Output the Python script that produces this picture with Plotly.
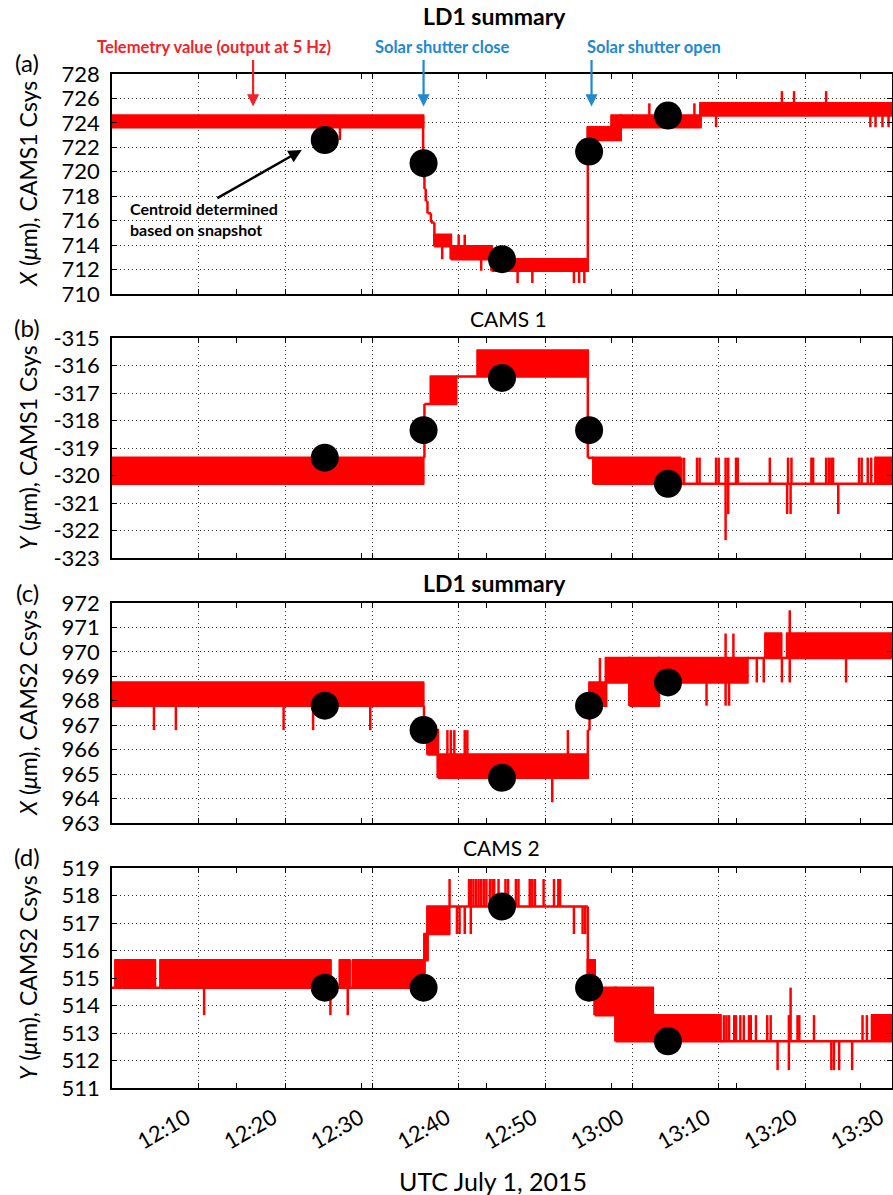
import pandas as pd
import plotly.graph_objects as go

# ------------------------------------------------------------------
# Time base: all times are minutes after 12:00 UTC, July 1, 2015
# ------------------------------------------------------------------
T_START = pd.Timestamp("2015-07-01 12:00:00")
T_SPAN_MIN = 90

# snapshot (centroid) epochs
snap_min = [24.55, 35.95, 45.0, 55.05, 64.15]

# shutter events and the telemetry pointer position (minutes)
shutter_close_min = 35.95
shutter_open_min = 55.33
telemetry_pointer_min = 16.28

# x-axis ticks
x_tick_min = [10, 20, 30, 40, 50, 60, 70, 80, 90]
x_tick_text = ["12:10", "12:20", "12:30", "12:40", "12:50", "13:00", "13:10", "13:20", "13:30"]
x_minor_min = [14.4, 28.8, 43.2, 57.6, 72.0, 86.4]

# ---------------- (a) X, CAMS1 Csys -------------------------------
# telemetry held between two quantised levels over each interval
a_edges = [0, 35.9, 36.05, 36.2, 36.4, 36.8, 37.2, 39.1, 43.8, 54.9, 57.65, 58.7, 67.9, 90]
a_lo = [723.65, 719.6, 718.6, 717.6, 716.6, 715.85, 713.9, 712.85, 711.9, 722.6, 722.6, 723.65, 724.6]
a_hi = [724.6, 719.6, 718.6, 717.6, 716.6, 715.85, 714.85, 713.9, 712.85, 723.65, 724.6, 724.6, 725.6]
a_spike_t = [26.3, 38.1, 40.0, 40.7, 42.6, 46.8, 48.5, 53.3, 53.9, 54.5,
             62.0, 67.2, 69.7, 77.3, 78.7, 82.4, 87.5, 88.1, 88.9, 89.6]
a_spike_lo = [722.6, 712.85, 713.9, 713.9, 711.9, 710.9, 710.9, 710.9, 710.9, 710.9,
              724.6, 724.6, 723.65, 725.6, 725.6, 725.6, 723.65, 723.65, 723.65, 723.65]
a_spike_hi = [723.65, 713.9, 714.85, 714.85, 712.85, 711.9, 711.9, 711.9, 711.9, 711.9,
              725.6, 725.6, 724.6, 726.6, 726.6, 726.6, 724.6, 724.6, 724.6, 724.6]
a_snap = [722.6, 720.7, 712.85, 721.65, 724.6]
a_yticks = [710, 712, 714, 716, 718, 720, 722, 724, 726, 728]

# ---------------- (b) Y, CAMS1 Csys -------------------------------
b_edges = [0, 35.9, 36.05, 36.8, 39.7, 42.2, 54.9, 55.55, 65.5, 88.1, 90]
b_lo = [-320.3, -319.35, -317.4, -317.4, -316.4, -316.4, -319.35, -320.3, -320.3, -320.3]
b_hi = [-319.35, -319.35, -317.4, -316.4, -316.4, -315.45, -319.35, -319.35, -320.3, -319.35]
b_spike_t = [65.7, 66.0, 67.5, 67.8, 69.7, 70.0, 70.8, 71.1, 72.0, 72.2, 75.9, 78.0,
             78.4, 80.7, 80.9, 82.4, 82.7, 83.0, 83.2, 86.2, 86.5, 87.2, 87.6,
             70.8, 71.1, 77.9, 78.3, 83.8]
b_spike_lo = [-320.3] * 23 + [-322.35, -321.4, -321.4, -321.4, -321.4]
b_spike_hi = [-319.35] * 23 + [-320.3, -320.3, -320.3, -320.3, -320.3]
b_snap = [-319.35, -318.35, -316.45, -318.35, -320.3]
b_yticks = [-323, -322, -321, -320, -319, -318, -317, -316, -315]

# ---------------- (c) X, CAMS2 Csys -------------------------------
c_edges = [0, 35.9, 36.0, 36.4, 37.6, 54.9, 55.1, 57.0, 59.7, 63.1, 73.3, 75.4, 77.2, 77.9, 79.1, 79.3, 90]
c_lo = [967.8, 967.8, 966.8, 965.8, 964.85, 966.8, 967.8, 968.75, 967.8, 968.75,
        969.75, 969.75, 969.75, 969.75, 969.75, 969.75]
c_hi = [968.75, 967.8, 966.8, 966.8, 965.8, 966.8, 968.75, 969.75, 969.75, 969.75,
        969.75, 970.75, 969.75, 970.75, 969.75, 970.75]
c_spike_t = [4.84, 7.37, 19.8, 23.2, 29.8,
             38.7, 39.1, 39.5, 40.7, 41.0, 52.6,
             50.8, 56.3,
             68.6, 70.8, 71.2,
             70.8, 71.7,
             74.4, 75.2, 77.3, 78.2, 84.7,
             78.2]
c_spike_lo = [966.8] * 5 + [965.8] * 6 + [963.85, 968.75] + [967.8] * 3 + [969.75] * 2 + [968.75] * 5 + [969.75]
c_spike_hi = [967.8] * 5 + [966.8] * 6 + [964.85, 969.75] + [968.75] * 3 + [970.75] * 2 + [969.75] * 5 + [971.7]
c_snap = [967.8, 966.8, 964.85, 967.8, 968.75]
c_yticks = [963, 964, 965, 966, 967, 968, 969, 970, 971, 972]

# ---------------- (d) Y, CAMS2 Csys -------------------------------
d_edges = [0, 0.4, 0.9, 1.2, 4.95, 5.6, 25.2, 26.3, 27.4, 27.8, 36.05, 36.4, 38.9,
           54.9, 55.7, 58.1, 62.4, 70.2, 87.7, 90]
d_lo = [514.65] * 10 + [515.65, 516.6, 517.6, 514.65, 513.65, 512.7, 512.7, 512.7, 512.7]
d_hi = [514.65, 515.65, 514.65, 515.65, 514.65, 515.65, 514.65, 515.65, 514.65, 515.65,
        516.6, 517.6, 517.6, 515.65, 514.65, 514.65, 513.65, 512.7, 513.65]
d_spike_t = [10.63, 25.2, 27.2,
             38.95, 41.2, 41.4, 41.7, 42.0, 42.3, 42.6, 42.9, 43.2, 43.6, 43.9, 44.1,
             44.6, 45.4, 45.7, 46.6, 46.9, 48.2, 48.5, 48.8, 49.8, 51.0, 51.5, 51.7,
             39.8, 40.1, 40.7, 41.4, 53.3, 54.3, 54.6,
             70.6, 70.9, 71.2, 71.8, 72.0, 72.5, 72.9, 73.5, 73.7, 74.3, 75.6, 76.0,
             78.1, 79.1, 79.3, 81.0, 86.6, 87.1,
             78.3,
             76.8, 78.1, 83.0, 83.3, 83.9, 85.4]
d_spike_lo = ([513.65] * 3 + [517.6] * 24 + [516.6] * 7 + [512.7] * 18 + [512.7]
              + [511.65] * 6)
d_spike_hi = ([514.65] * 3 + [518.6] * 24 + [517.6] * 7 + [513.65] * 18 + [514.65]
              + [512.7] * 6)
d_snap = [514.65, 514.65, 517.6, 514.65, 512.7]
d_yticks = [511, 512, 513, 514, 515, 516, 517, 518, 519]

# ------------------------------------------------------------------
RED = "#ff0000"
TXT_RED = "#f2222a"
BLUE = "#2189d0"
GRID = "#333333"
FONT = "Lato"
TICK_SIZE = 22
W, H = 893, 1195
PLOT_L, PLOT_R = 112, 892
PANEL_TOPS = [74, 338, 603, 868]
PANEL_H = 220


def at(m):
    if m is None:
        return None
    return (T_START + pd.Timedelta(minutes=m)).strftime("%Y-%m-%d %H:%M:%S.%f")


def band_path(edges, lo, hi):
    xs, ys = [], []
    for i in range(len(lo)):
        t0, t1 = edges[i], edges[i + 1]
        xs += [at(t0), at(t1), at(t1), at(t0), at(t0), None]
        ys += [lo[i], lo[i], hi[i], hi[i], lo[i], None]
    return xs, ys


def join_path(edges, lo, hi, st, slo, shi):
    xs, ys = [], []
    for i in range(len(lo) - 1):
        t = at(edges[i + 1])
        xs += [t, t, None]
        ys += [min(lo[i], lo[i + 1]), max(hi[i], hi[i + 1]), None]
    for t, y0, y1 in zip(st, slo, shi):
        xs += [at(t), at(t), None]
        ys += [y0, y1, None]
    return xs, ys


panels = [
    dict(edges=a_edges, lo=a_lo, hi=a_hi, st=a_spike_t, slo=a_spike_lo, shi=a_spike_hi,
         snap=a_snap, yt=a_yticks, yr=[710, 728],
         ytitle="<i>X</i> (<i>μ</i>m), CAMS1 Csys", tag="(a)"),
    dict(edges=b_edges, lo=b_lo, hi=b_hi, st=b_spike_t, slo=b_spike_lo, shi=b_spike_hi,
         snap=b_snap, yt=b_yticks, yr=[-323, -315],
         ytitle="<i>Y</i> (<i>μ</i>m), CAMS1 Csys", tag="(b)"),
    dict(edges=c_edges, lo=c_lo, hi=c_hi, st=c_spike_t, slo=c_spike_lo, shi=c_spike_hi,
         snap=c_snap, yt=c_yticks, yr=[963, 972],
         ytitle="<i>X</i> (<i>μ</i>m), CAMS2 Csys", tag="(c)"),
    dict(edges=d_edges, lo=d_lo, hi=d_hi, st=d_spike_t, slo=d_spike_lo, shi=d_spike_hi,
         snap=d_snap, yt=d_yticks, yr=[511, 519],
         ytitle="<i>Y</i> (<i>μ</i>m), CAMS2 Csys", tag="(d)"),
]

fig = go.Figure()
layout = {}
annotations = []

for i, p in enumerate(panels):
    n = i + 1
    xa = "x" if n == 1 else f"x{n}"
    ya = "y" if n == 1 else f"y{n}"

    bx, by = band_path(p["edges"], p["lo"], p["hi"])
    fig.add_trace(go.Scatter(x=bx, y=by, xaxis=xa, yaxis=ya, mode="lines",
                             fill="toself", fillcolor=RED,
                             line=dict(color=RED, width=2.5), hoverinfo="skip"))
    jx, jy = join_path(p["edges"], p["lo"], p["hi"], p["st"], p["slo"], p["shi"])
    fig.add_trace(go.Scatter(x=jx, y=jy, xaxis=xa, yaxis=ya, mode="lines",
                             line=dict(color=RED, width=2.5), hoverinfo="skip"))
    fig.add_trace(go.Scatter(x=[at(m) for m in snap_min], y=p["snap"], xaxis=xa, yaxis=ya,
                             mode="markers", marker=dict(size=28, color="black"),
                             hoverinfo="skip"))

    top = PANEL_TOPS[i]
    dom_y = [1 - (top + PANEL_H) / H, 1 - top / H]
    xkey = "xaxis" if n == 1 else f"xaxis{n}"
    ykey = "yaxis" if n == 1 else f"yaxis{n}"
    layout[xkey] = dict(
        type="date", range=[at(0), at(T_SPAN_MIN)], domain=[PLOT_L / W, PLOT_R / W],
        anchor=ya, tickmode="array", tickvals=[at(m) for m in x_tick_min],
        ticktext=x_tick_text, showticklabels=(n == 4), tickangle=-30,
        ticklabeloverflow="allow", ticklabelstandoff=7, ticklabelshift=-12,
        tickfont=dict(family=FONT, size=TICK_SIZE, color="black"),
        ticks="inside", ticklen=5, tickcolor="black", tickwidth=1,
        showline=True, linecolor="black", linewidth=1.5, mirror="ticks",
        showgrid=True, gridcolor=GRID, gridwidth=1, griddash="1px,3px", zeroline=False,
        minor=dict(tickmode="array", tickvals=[at(m) for m in x_minor_min],
                   ticks="inside", ticklen=5, tickcolor="black", showgrid=False),
        automargin=False,
    )
    if n > 1:
        layout[xkey]["matches"] = "x"
    layout[ykey] = dict(
        range=p["yr"], domain=dom_y, anchor=xa,
        tickmode="array", tickvals=p["yt"], ticktext=[str(v) for v in p["yt"]],
        tickfont=dict(family=FONT, size=TICK_SIZE, color="black"),
        ticks="inside", ticklen=5, tickcolor="black",
        showline=True, linecolor="black", linewidth=1.5, mirror="ticks",
        showgrid=True, gridcolor=GRID, gridwidth=1, griddash="1px,3px", zeroline=False,
        ticklabelstandoff=6, automargin=False,
    )

    # y-axis title and panel tag
    annotations.append(dict(x=28 / W, y=1 - (top + PANEL_H / 2) / H, xref="paper", yref="paper",
                            text=p["ytitle"], textangle=-90, showarrow=False,
                            font=dict(family=FONT, size=23, color="black"),
                            xanchor="center", yanchor="middle"))
    annotations.append(dict(x=27 / W, y=1 - (top - 11) / H, xref="paper", yref="paper",
                            text=p["tag"], showarrow=False,
                            font=dict(family=FONT, size=24, color="black"),
                            xanchor="center", yanchor="middle"))

# panel headings
for txt, px, py, bold in [("LD1 summary", 495, 16, True), ("CAMS 1", 508, 318, False),
                          ("LD1 summary", 495, 583, True), ("CAMS 2", 502, 847, False)]:
    annotations.append(dict(x=px / W, y=1 - py / H, xref="paper", yref="paper",
                            text=f"<b>{txt}</b>" if bold else txt, showarrow=False,
                            font=dict(family=FONT, size=23 if bold else 21, color="black"),
                            xanchor="center", yanchor="middle"))

# x-axis title
annotations.append(dict(x=493 / W, y=1 - 1181 / H, xref="paper", yref="paper",
                        text="UTC July 1, 2015", showarrow=False,
                        font=dict(family=FONT, size=25, color="black"),
                        xanchor="center", yanchor="middle"))

# labels above panel (a)
for txt, px, col in [("Telemetry value (output at 5 Hz)", 214, TXT_RED),
                     ("Solar shutter close", 442, BLUE),
                     ("Solar shutter open", 654, BLUE)]:
    annotations.append(dict(x=px / W, y=1 - 47 / H, xref="paper", yref="paper",
                            text=f"<b>{txt}</b>", showarrow=False,
                            font=dict(family=FONT, size=16.5, color=col),
                            xanchor="center", yanchor="middle"))

# downward pointers onto panel (a)
for t, col in [(telemetry_pointer_min, TXT_RED), (shutter_close_min, BLUE), (shutter_open_min, BLUE)]:
    annotations.append(dict(x=at(t), y=725.35, xref="x", yref="y", ax=0, ay=-48,
                            axref="pixel", ayref="pixel", text="", showarrow=True,
                            arrowhead=2, arrowsize=1.1, arrowwidth=2.2, arrowcolor=col))

# centroid call-out
annotations.append(dict(x=at(21.9), y=721.78, xref="x", yref="y", ax=-86, ay=49,
                        text="", showarrow=True, arrowhead=2, arrowsize=1.1,
                        arrowwidth=2.4, arrowcolor="black"))
annotations.append(dict(x=128 / W, y=1 - 219.5 / H, xref="paper", yref="paper",
                        text="<b>Centroid determined<br>based on snapshot</b>", showarrow=False,
                        align="left", xanchor="left", yanchor="middle",
                        font=dict(family=FONT, size=16, color="black")))

fig.update_layout(
    width=W, height=H, margin=dict(l=0, r=0, t=0, b=0),
    paper_bgcolor="white", plot_bgcolor="white", showlegend=False,
    annotations=annotations, **layout,
)

fig.write_html("out.html")
